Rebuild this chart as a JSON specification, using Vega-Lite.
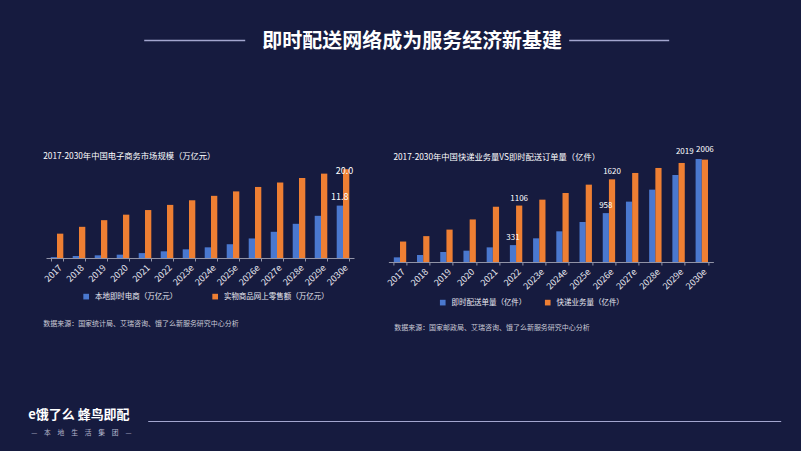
{
  "$schema": "https://vega.github.io/schema/vega-lite/v6.json",
  "padding": {"left": 27, "top": 32, "right": 87, "bottom": 14.7},
  "background": "#161b3f",
  "config": {"view": {"stroke": null}, "font": "Noto Sans CJK SC"},
  "hconcat": [
    {
      "width": 308,
      "height": 111,
      "data": {"values": [
        {"year": "2017", "series": "本地即时电商（万亿元）", "value": 0.2},
        {"year": "2018", "series": "本地即时电商（万亿元）", "value": 0.45},
        {"year": "2019", "series": "本地即时电商（万亿元）", "value": 0.6},
        {"year": "2020", "series": "本地即时电商（万亿元）", "value": 0.75},
        {"year": "2021", "series": "本地即时电商（万亿元）", "value": 1.1},
        {"year": "2022", "series": "本地即时电商（万亿元）", "value": 1.5},
        {"year": "2023e", "series": "本地即时电商（万亿元）", "value": 1.95},
        {"year": "2024e", "series": "本地即时电商（万亿元）", "value": 2.4},
        {"year": "2025e", "series": "本地即时电商（万亿元）", "value": 3.1},
        {"year": "2026e", "series": "本地即时电商（万亿元）", "value": 4.4},
        {"year": "2027e", "series": "本地即时电商（万亿元）", "value": 5.9},
        {"year": "2028e", "series": "本地即时电商（万亿元）", "value": 7.7},
        {"year": "2029e", "series": "本地即时电商（万亿元）", "value": 9.5},
        {"year": "2030e", "series": "本地即时电商（万亿元）", "value": 11.8},
        {"year": "2017", "series": "实物商品网上零售额（万亿元）", "value": 5.48},
        {"year": "2018", "series": "实物商品网上零售额（万亿元）", "value": 7.02},
        {"year": "2019", "series": "实物商品网上零售额（万亿元）", "value": 8.52},
        {"year": "2020", "series": "实物商品网上零售额（万亿元）", "value": 9.76},
        {"year": "2021", "series": "实物商品网上零售额（万亿元）", "value": 10.8},
        {"year": "2022", "series": "实物商品网上零售额（万亿元）", "value": 11.96},
        {"year": "2023e", "series": "实物商品网上零售额（万亿元）", "value": 13.0},
        {"year": "2024e", "series": "实物商品网上零售额（万亿元）", "value": 14.0},
        {"year": "2025e", "series": "实物商品网上零售额（万亿元）", "value": 15.0},
        {"year": "2026e", "series": "实物商品网上零售额（万亿元）", "value": 16.0},
        {"year": "2027e", "series": "实物商品网上零售额（万亿元）", "value": 17.0},
        {"year": "2028e", "series": "实物商品网上零售额（万亿元）", "value": 18.0},
        {"year": "2029e", "series": "实物商品网上零售额（万亿元）", "value": 19.0},
        {"year": "2030e", "series": "实物商品网上零售额（万亿元）", "value": 20.0}
      ]},
      "layer": [
        {
          "transform": [{"filter": "datum.series == '本地即时电商（万亿元）'"}],
          "mark": {"type": "bar", "width": 6.3, "xOffset": -3.15},
          "encoding": {
            "x": {"field": "year", "type": "nominal", "sort": null,
              "scale": {"domain": ["2017","2018","2019","2020","2021","2022","2023e","2024e","2025e","2026e","2027e","2028e","2029e","2030e"], "paddingInner": 0.42, "paddingOuter": 0.21},
              "axis": {"tickBand": "extent", "domainColor": "#9496a8", "tickColor": "#9496a8", "tickSize": 3, "labelAngle": -45, "labelFontSize": 9, "labelColor": "#e8e8f0", "labelPadding": 2,
                "title": "数据来源：国家统计局、艾瑞咨询、饿了么新服务研究中心分析", "titleX": -3.3, "titleY": 66, "titleAlign": "left", "titleBaseline": "middle", "titleFontSize": 7, "titleFontWeight": "normal", "titleColor": "#c9cad6"}},
            "y": {"field": "value", "type": "quantitative", "scale": {"domain": [0, 25], "nice": false},
              "axis": {"domain": false, "ticks": false, "labels": false, "grid": false,
                "title": "2017-2030年中国电子商务市场规模（万亿元）", "titleAngle": 0, "titleX": -3.3, "titleY": 10, "titleAlign": "left", "titleBaseline": "middle", "titleFontSize": 8.3, "titleFontWeight": "normal", "titleColor": "#ffffff"}},
            "color": {"field": "series", "type": "nominal",
              "scale": {"domain": ["本地即时电商（万亿元）", "实物商品网上零售额（万亿元）"], "range": ["#4a78cf", "#ee7f33"]},
              "legend": {"orient": "none", "legendX": 36.4, "legendY": 145.5, "direction": "horizontal", "title": null, "symbolType": "square", "symbolSize": 32, "symbolStrokeWidth": 0, "labelFontSize": 7.5, "labelColor": "#e8e8f0", "columnPadding": 34, "labelOffset": 5}}
          }
        },
        {
          "transform": [{"filter": "datum.series == '实物商品网上零售额（万亿元）'"}],
          "mark": {"type": "bar", "width": 6.3, "xOffset": 3.15},
          "encoding": {
            "x": {"field": "year", "type": "nominal", "sort": null,
              "scale": {"domain": ["2017","2018","2019","2020","2021","2022","2023e","2024e","2025e","2026e","2027e","2028e","2029e","2030e"], "paddingInner": 0.42, "paddingOuter": 0.21}, "axis": null},
            "y": {"field": "value", "type": "quantitative"},
            "color": {"field": "series", "type": "nominal"}
          }
        },
        {
          "transform": [{"filter": "datum.year == '2030e' && datum.series == '实物商品网上零售额（万亿元）'"}],
          "mark": {"type": "text", "baseline": "middle", "dx": 1.5, "dy": 2, "fontSize": 9, "color": "#ffffff"},
          "encoding": {
            "x": {"field": "year", "type": "nominal", "sort": null,
              "scale": {"domain": ["2017","2018","2019","2020","2021","2022","2023e","2024e","2025e","2026e","2027e","2028e","2029e","2030e"], "paddingInner": 0.42, "paddingOuter": 0.21}, "axis": null},
            "y": {"field": "value", "type": "quantitative"},
            "text": {"field": "value", "type": "quantitative", "format": ".1f"}
          }
        },
        {
          "transform": [{"filter": "datum.year == '2030e' && datum.series == '本地即时电商（万亿元）'"}],
          "mark": {"type": "text", "baseline": "middle", "dx": -3.15, "dy": -9, "fontSize": 9, "color": "#ffffff"},
          "encoding": {
            "x": {"field": "year", "type": "nominal", "sort": null,
              "scale": {"domain": ["2017","2018","2019","2020","2021","2022","2023e","2024e","2025e","2026e","2027e","2028e","2029e","2030e"], "paddingInner": 0.42, "paddingOuter": 0.21}, "axis": null},
            "y": {"field": "value", "type": "quantitative"},
            "text": {"field": "value", "type": "quantitative", "format": ".1f"}
          }
        },
        {
          "data": {"values": [{"d": 0}]},
          "mark": {"type": "point", "opacity": 0},
          "encoding": {
            "x": {"field": "d", "type": "quantitative", "scale": {"domain": [0, 1], "range": [97.7, 198.7]},
              "axis": {"orient": "top", "offset": 107, "domain": true, "domainColor": "#a3a6cf", "domainWidth": 1.5, "ticks": false, "labels": false, "grid": false,
                "title": "—　本　地　生　活　集　团　—", "titleX": -15.3, "titleY": 393, "titleAlign": "left", "titleBaseline": "middle", "titleFontSize": 6.8, "titleFontWeight": "normal", "titleColor": "#b4b6cc"}},
            "y": {"field": "d", "type": "quantitative"}
          }
        },
        {
          "data": {"values": [{"d": 0}]},
          "mark": {"type": "point", "opacity": 0},
          "encoding": {
            "x": {"field": "d", "type": "quantitative", "scale": {"domain": [0, 1], "range": [522.7, 622.7]},
              "axis": {"orient": "top", "offset": 107, "domain": true, "domainColor": "#a3a6cf", "domainWidth": 1.5, "ticks": false, "labels": false, "grid": false,
                "title": "即时配送网络成为服务经济新基建", "titleX": 365.7, "titleY": 2, "titleAlign": "center", "titleBaseline": "middle", "titleFontSize": 20, "titleFontWeight": "bold", "titleColor": "#ffffff"}},
            "y": {"field": "d", "type": "quantitative"}
          }
        },
        {
          "data": {"values": [{"d": 0}]},
          "mark": {"type": "point", "opacity": 0},
          "encoding": {
            "x": {"field": "d", "type": "quantitative", "scale": {"domain": [0, 1], "range": [101.7, 734.7]},
              "axis": {"orient": "bottom", "offset": 163, "domain": true, "domainColor": "#a3a6cf", "domainWidth": 1.2, "ticks": false, "labels": false, "grid": false,
                "title": "e饿了么   蜂鸟即配", "titleX": -18.3, "titleY": -6, "titleAlign": "left", "titleBaseline": "middle", "titleFontSize": 13, "titleFontWeight": "bold", "titleColor": "#ffffff"}},
            "y": {"field": "d", "type": "quantitative"}
          }
        }
      ],
      "resolve": {"scale": {"x": "independent"}}
    },
    {
      "width": 325,
      "height": 115,
      "title": {"text": "2017-2030年中国快递业务量VS即时配送订单量（亿件）", "anchor": "start", "frame": "group", "dx": 5, "offset": -16, "fontSize": 8.3, "fontWeight": "normal", "color": "#ffffff"},
      "data": {"values": [
        {"yr": "2017", "kind": "即时配送单量（亿件）", "orders": 91},
        {"yr": "2018", "kind": "即时配送单量（亿件）", "orders": 137},
        {"yr": "2019", "kind": "即时配送单量（亿件）", "orders": 196},
        {"yr": "2020", "kind": "即时配送单量（亿件）", "orders": 222},
        {"yr": "2021", "kind": "即时配送单量（亿件）", "orders": 287},
        {"yr": "2022", "kind": "即时配送单量（亿件）", "orders": 331},
        {"yr": "2023e", "kind": "即时配送单量（亿件）", "orders": 464},
        {"yr": "2024e", "kind": "即时配送单量（亿件）", "orders": 601},
        {"yr": "2025e", "kind": "即时配送单量（亿件）", "orders": 784},
        {"yr": "2026e", "kind": "即时配送单量（亿件）", "orders": 958},
        {"yr": "2027e", "kind": "即时配送单量（亿件）", "orders": 1183},
        {"yr": "2028e", "kind": "即时配送单量（亿件）", "orders": 1418},
        {"yr": "2029e", "kind": "即时配送单量（亿件）", "orders": 1705},
        {"yr": "2030e", "kind": "即时配送单量（亿件）", "orders": 2019},
        {"yr": "2017", "kind": "快递业务量（亿件）", "orders": 401},
        {"yr": "2018", "kind": "快递业务量（亿件）", "orders": 507},
        {"yr": "2019", "kind": "快递业务量（亿件）", "orders": 635},
        {"yr": "2020", "kind": "快递业务量（亿件）", "orders": 834},
        {"yr": "2021", "kind": "快递业务量（亿件）", "orders": 1083},
        {"yr": "2022", "kind": "快递业务量（亿件）", "orders": 1106},
        {"yr": "2023e", "kind": "快递业务量（亿件）", "orders": 1222},
        {"yr": "2024e", "kind": "快递业务量（亿件）", "orders": 1352},
        {"yr": "2025e", "kind": "快递业务量（亿件）", "orders": 1516},
        {"yr": "2026e", "kind": "快递业务量（亿件）", "orders": 1620},
        {"yr": "2027e", "kind": "快递业务量（亿件）", "orders": 1745},
        {"yr": "2028e", "kind": "快递业务量（亿件）", "orders": 1843},
        {"yr": "2029e", "kind": "快递业务量（亿件）", "orders": 1941},
        {"yr": "2030e", "kind": "快递业务量（亿件）", "orders": 2006}
      ]},
      "encoding": {
        "x": {"field": "yr", "type": "nominal", "sort": null,
          "scale": {"domain": ["2017","2018","2019","2020","2021","2022","2023e","2024e","2025e","2026e","2027e","2028e","2029e","2030e"], "paddingInner": 0.46, "paddingOuter": 0.23},
          "axis": {"tickBand": "extent", "domainColor": "#9496a8", "tickColor": "#9496a8", "tickSize": 3, "labelAngle": -45, "labelFontSize": 9, "labelColor": "#e8e8f0", "labelPadding": 2,
            "title": "数据来源：国家邮政局、艾瑞咨询、饿了么新服务研究中心分析", "titleX": 5.3, "titleY": 66, "titleAlign": "left", "titleBaseline": "middle", "titleFontSize": 7, "titleFontWeight": "normal", "titleColor": "#c9cad6"}},
        "y": {"field": "orders", "type": "quantitative", "scale": {"domain": [0, 2254], "nice": false}, "axis": null}
      },
      "layer": [
        {
          "transform": [{"filter": "datum.kind == '即时配送单量（亿件）'"}],
          "mark": {"type": "bar", "width": 6.2, "xOffset": -3.1},
          "encoding": {
            "color": {"field": "kind", "type": "nominal",
              "scale": {"domain": ["即时配送单量（亿件）", "快递业务量（亿件）"], "range": ["#4a78cf", "#ee7f33"]},
              "legend": {"orient": "none", "legendX": 50.6, "legendY": 151.5, "direction": "horizontal", "title": null, "symbolType": "square", "symbolSize": 32, "symbolStrokeWidth": 0, "labelFontSize": 7.5, "labelColor": "#e8e8f0", "columnPadding": 17, "labelOffset": 5}}
          }
        },
        {
          "transform": [{"filter": "datum.kind == '快递业务量（亿件）'"}],
          "mark": {"type": "bar", "width": 6.2, "xOffset": 3.1},
          "encoding": {"color": {"field": "kind", "type": "nominal"}}
        },
        {
          "transform": [{"filter": "(datum.yr == '2022' || datum.yr == '2026e') && datum.kind == '即时配送单量（亿件）'"}],
          "mark": {"type": "text", "baseline": "middle", "dx": -3.1, "dy": -7, "fontSize": 8, "color": "#ffffff"},
          "encoding": {"text": {"field": "orders", "type": "quantitative", "format": "d"}}
        },
        {
          "transform": [{"filter": "(datum.yr == '2022' || datum.yr == '2026e') && datum.kind == '快递业务量（亿件）'"}],
          "mark": {"type": "text", "baseline": "middle", "dx": 3.1, "dy": -7, "fontSize": 8, "color": "#ffffff"},
          "encoding": {"text": {"field": "orders", "type": "quantitative", "format": "d"}}
        },
        {
          "transform": [{"filter": "datum.yr == '2030e' && datum.kind == '即时配送单量（亿件）'"}],
          "mark": {"type": "text", "baseline": "middle", "dx": -17, "dy": -6.5, "fontSize": 8, "color": "#ffffff"},
          "encoding": {"text": {"field": "orders", "type": "quantitative", "format": "d"}}
        },
        {
          "transform": [{"filter": "datum.yr == '2030e' && datum.kind == '快递业务量（亿件）'"}],
          "mark": {"type": "text", "baseline": "middle", "dx": 3.1, "dy": -10, "fontSize": 8, "color": "#ffffff"},
          "encoding": {"text": {"field": "orders", "type": "quantitative", "format": "d"}}
        }
      ]
    }
  ],
  "spacing": 34.4,
  "bounds": "flush",
  "resolve": {"scale": {"color": "independent"}, "legend": {"color": "independent"}}
}
